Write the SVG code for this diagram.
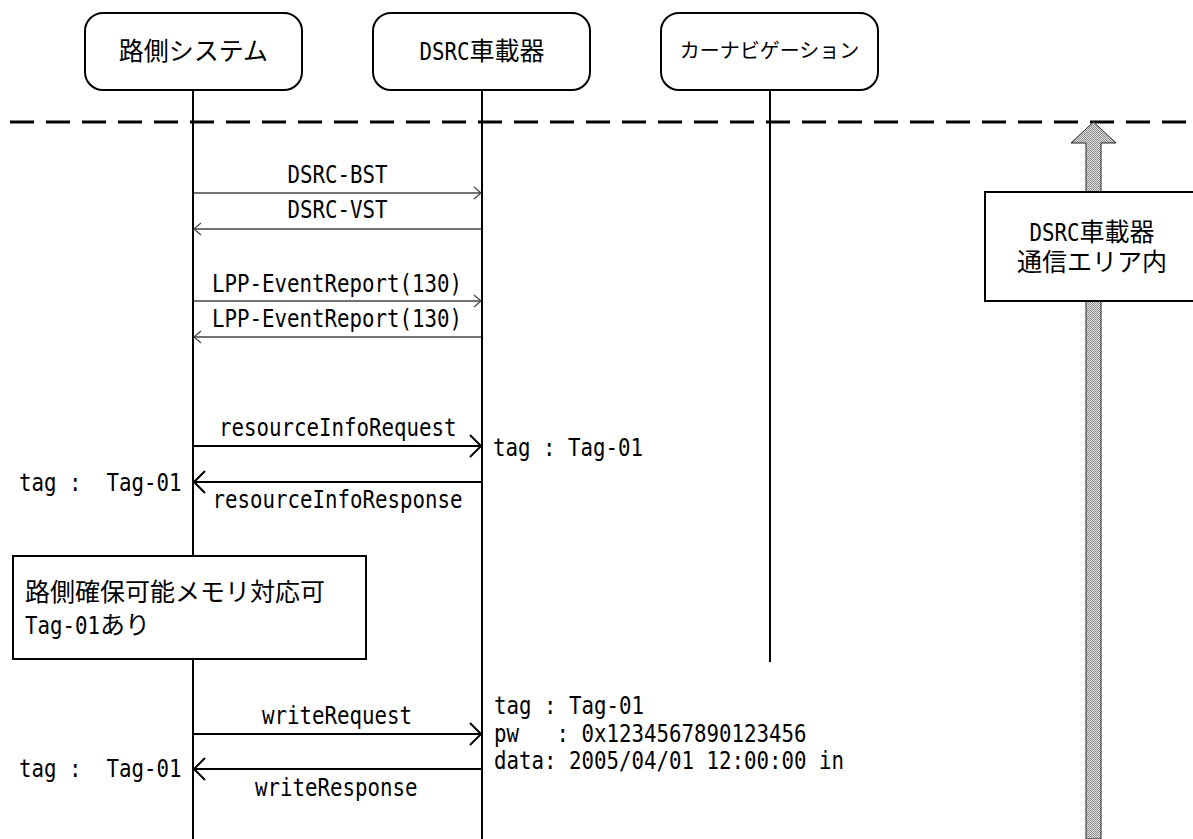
<svg xmlns="http://www.w3.org/2000/svg" width="1193" height="839" viewBox="0 0 1193 839">
<defs>
<style>
.ll{stroke:#000;stroke-width:2;fill:none}
.box{fill:#fff;stroke:#000;stroke-width:2}
.mono{font-family:"DejaVu Sans Mono","Liberation Mono",monospace;font-size:25px;fill:#000}
.jp{font-family:"Noto Sans CJK JP","Noto Sans CJK SC",sans-serif;font-size:25px;fill:#000}
.thin{stroke:#444;stroke-width:1.5;fill:none;marker-end:url(#ah)}
.thick{stroke:#000;stroke-width:2;fill:none;marker-end:url(#ahb)}
</style>
<marker id="ah" markerUnits="userSpaceOnUse" markerWidth="10" markerHeight="14" refX="8" refY="7" orient="auto"><path d="M1,1 L8,7 L1,13" fill="none" stroke="#444" stroke-width="1.2"/></marker>
<marker id="ahb" markerUnits="userSpaceOnUse" markerWidth="14" markerHeight="26" refX="12" refY="13" orient="auto"><path d="M1,2 L12,13 L1,24" fill="none" stroke="#000" stroke-width="2"/></marker>
<pattern id="dither" width="2" height="2" patternUnits="userSpaceOnUse"><rect width="2" height="2" fill="#e4e4e4"/><rect width="1" height="1" fill="#8a8a8a"/><rect x="1" y="1" width="1" height="1" fill="#8a8a8a"/></pattern>
</defs>
<rect width="1193" height="839" fill="#fff"/>

<line x1="10" y1="122" x2="1193" y2="122" stroke="#000" stroke-width="3" stroke-dasharray="24 12"/>

<g id="lifelines">
<line class="ll" x1="193" y1="90" x2="193" y2="839"/>
<line class="ll" x1="482" y1="90" x2="482" y2="839"/>
<line class="ll" x1="770" y1="90" x2="770" y2="662"/>
</g>

<g id="node-roadside">
<rect class="box" x="85" y="13" width="217" height="77" rx="18" ry="18"/>
<text class="jp" x="193.5" y="60" text-anchor="middle">路側システム</text>
</g>
<g id="node-dsrc">
<rect class="box" x="373" y="13" width="217" height="77" rx="18" ry="18"/>
<text class="jp" x="419.5" y="60"><tspan class="mono" textLength="50" lengthAdjust="spacingAndGlyphs">DSRC</tspan>車載器</text>
</g>
<g id="node-carnavi">
<rect class="box" x="661" y="13" width="217" height="77" rx="18" ry="18"/>
<text class="jp" x="769.5" y="58" text-anchor="middle" style="font-size:20px">カーナビゲーション</text>
</g>

<g id="area-arrow">
<path d="M1093.5,122 L1116,143 L1101,143 L1101,839 L1086,839 L1086,143 L1071,143 Z" fill="url(#dither)" stroke="#222" stroke-width="1"/>
</g>
<g id="area-box">
<rect class="box" x="985" y="192" width="220" height="109"/>
<text class="jp" x="1029.5" y="241"><tspan class="mono" textLength="50" lengthAdjust="spacingAndGlyphs">DSRC</tspan>車載器</text>
<text class="jp" x="1017" y="271">通信エリア内</text>
</g>

<g id="connectors">
<line class="thin" x1="194" y1="193" x2="481" y2="193"/>
<line class="thin" x1="481" y1="229" x2="194" y2="229"/>
<line class="thin" x1="194" y1="301" x2="481" y2="301"/>
<line class="thin" x1="481" y1="337" x2="194" y2="337"/>
<line class="thick" x1="194" y1="446" x2="481" y2="446"/>
<line class="thick" x1="481" y1="482" x2="194" y2="482"/>
<line class="thick" x1="194" y1="734" x2="481" y2="734"/>
<line class="thick" x1="481" y1="769" x2="194" y2="769"/>
</g>

<g id="labels">
<text class="mono" x="287.5" y="183" textLength="100" lengthAdjust="spacingAndGlyphs">DSRC-BST</text>
<text class="mono" x="287.5" y="218" textLength="100" lengthAdjust="spacingAndGlyphs">DSRC-VST</text>
<text class="mono" x="212" y="292" textLength="250" lengthAdjust="spacingAndGlyphs">LPP-EventReport(130)</text>
<text class="mono" x="212" y="327" textLength="250" lengthAdjust="spacingAndGlyphs">LPP-EventReport(130)</text>
<text class="mono" x="219" y="436" textLength="237.5" lengthAdjust="spacingAndGlyphs">resourceInfoRequest</text>
<text class="mono" x="493" y="456" textLength="150" lengthAdjust="spacingAndGlyphs">tag : Tag-01</text>
<text class="mono" x="19" y="491" textLength="162.5" lengthAdjust="spacingAndGlyphs" xml:space="preserve">tag :  Tag-01</text>
<text class="mono" x="212.5" y="508" textLength="250" lengthAdjust="spacingAndGlyphs">resourceInfoResponse</text>
<text class="mono" x="262" y="724" textLength="150" lengthAdjust="spacingAndGlyphs">writeRequest</text>
<text class="mono" x="255" y="796" textLength="162.5" lengthAdjust="spacingAndGlyphs">writeResponse</text>
<text class="mono" x="19" y="777" textLength="162.5" lengthAdjust="spacingAndGlyphs" xml:space="preserve">tag :  Tag-01</text>
<text class="mono" x="494" y="714" textLength="150" lengthAdjust="spacingAndGlyphs">tag : Tag-01</text>
<text class="mono" x="494" y="742" textLength="312.5" lengthAdjust="spacingAndGlyphs" xml:space="preserve">pw   : 0x1234567890123456</text>
<text class="mono" x="494" y="769" textLength="350" lengthAdjust="spacingAndGlyphs" xml:space="preserve">data: 2005/04/01 12:00:00 in</text>
</g>

<g id="note-box">
<rect class="box" x="13" y="556" width="353" height="103"/>
<text class="jp" x="25" y="601">路側確保可能メモリ対応可</text>
<text class="jp" x="25" y="634"><tspan class="mono" textLength="75" lengthAdjust="spacingAndGlyphs">Tag-01</tspan>あり</text>
</g>
</svg>
